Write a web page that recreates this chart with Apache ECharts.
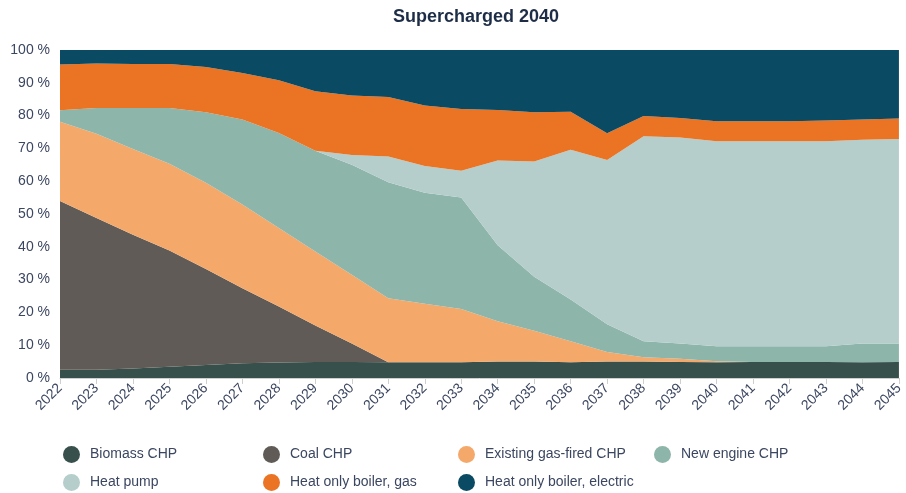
<!DOCTYPE html>
<html>
<head>
<meta charset="utf-8">
<script src="https://cdn.jsdelivr.net/npm/echarts@6/dist/echarts.min.js"></script>
<style>html,body{margin:0;padding:0;background:#fff}#c{width:906px;height:493px}</style>
</head>
<body>
<div id="c"></div>
<script>
var years = ['2022','2023','2024','2025','2026','2027','2028','2029','2030','2031','2032','2033','2034','2035','2036','2037','2038','2039','2040','2041','2042','2043','2044','2045'];
var biomassCHP = [2.5,2.5,2.9,3.4,4.0,4.5,4.7,4.9,4.9,4.8,4.8,4.8,5.0,5.0,4.8,5.0,5.0,4.9,4.8,4.9,4.9,4.9,4.8,4.9];
var coalCHP = [51.5,46.3,40.8,35.5,29.2,22.9,17.1,11.1,5.6,0,0,0,0,0,0,0,0,0,0,0,0,0,0,0];
var existingGasCHP = [24.1,25.7,26.1,26.4,26.3,25.5,23.9,22.6,21.0,19.5,17.8,16.2,12.3,9.4,6.4,2.9,1.3,1.0,0.3,0,0,0,0,0];
var newEngineCHP = [3.5,7.8,12.5,17.0,21.5,25.9,29.0,30.7,33.5,35.4,33.9,34.0,23.2,16.5,12.7,8.5,4.9,4.6,4.6,4.8,4.8,4.8,5.7,5.6];
var heatPump = [0,0,0,0,0,0,0,0,3.0,7.8,8.1,8.2,25.8,35.1,45.7,50.1,62.5,62.8,62.5,62.5,62.5,62.5,62.1,62.4];
var boilerGas = [14.0,13.6,13.4,13.4,13.8,14.2,16.1,18.1,18.1,18.2,18.5,18.8,15.4,15.0,11.6,8.1,6.2,6.0,6.1,6.1,6.1,6.3,6.2,6.2];
var boilerElectric = [4.4,4.1,4.3,4.3,5.2,7.0,9.2,12.6,13.9,14.3,16.9,18.0,18.3,19.0,18.8,25.4,20.1,20.7,21.7,21.7,21.7,21.5,21.2,20.9];
var yTicks = [0,10,20,30,40,50,60,70,80,90,100];

var names = ['Biomass CHP','Coal CHP','Existing gas-fired CHP','New engine CHP','Heat pump','Heat only boiler, gas','Heat only boiler, electric'];
var colors = ['#37504b','#605b56','#f4a96b','#8db5aa','#b5cecb','#ea7424','#0a4a63'];
var datas = [biomassCHP,coalCHP,existingGasCHP,newEngineCHP,heatPump,boilerGas,boilerElectric];

var textColor = '#3b4660';
var font = 'Liberation Sans, Arial, sans-serif';

var series = names.map(function(n,i){
  return {
    name: n, type: 'line', stack: 'total', data: datas[i],
    symbol: 'none', smooth: false,
    lineStyle: {width: 0, color: colors[i]},
    itemStyle: {color: colors[i]},
    areaStyle: {color: colors[i], opacity: 1},
    emphasis: {disabled: true}
  };
});

function legendCol(left, items){
  return {
    orient: 'vertical', left: left, top: 446, padding: 0, height: 47,
    data: items, icon: 'circle', itemWidth: 17, itemHeight: 17, itemGap: 11,
    textStyle: {color: textColor, fontSize: 14, fontFamily: font, padding: [0,0,0,5]},
    selectedMode: false
  };
}

var chart = echarts.init(document.getElementById('c'), null, {renderer: 'canvas'});
chart.setOption({
  animation: false,
  backgroundColor: '#fff',
  color: colors,
  title: {
    text: 'Supercharged 2040', left: 393, top: 8, padding: 0,
    textStyle: {color: '#1e2d47', fontSize: 18, fontWeight: 'bold', fontFamily: font}
  },
  legend: [
    legendCol(63, ['Biomass CHP','Heat pump']),
    legendCol(263, ['Coal CHP','Heat only boiler, gas']),
    legendCol(458, ['Existing gas-fired CHP','Heat only boiler, electric']),
    legendCol(654, ['New engine CHP'])
  ],
  grid: {left: 60, right: 4, top: 50, bottom: 115, containLabel: false},
  xAxis: {
    type: 'category', data: years, boundaryGap: false,
    axisLine: {show: true, lineStyle: {color: '#cfcfcf', width: 1}},
    axisTick: {show: true, alignWithLabel: true, length: 6, lineStyle: {color: '#cfcfcf'}},
    axisLabel: {rotate: 45, color: textColor, fontSize: 14, fontFamily: font, margin: 8, interval: 0},
    splitLine: {show: false}
  },
  yAxis: {
    type: 'value', min: 0, max: 100, interval: 10,
    axisLine: {show: false}, axisTick: {show: false},
    axisLabel: {color: textColor, fontSize: 14, fontFamily: font, margin: 10,
      formatter: function(v){ return yTicks.indexOf(v) >= 0 ? v + ' %' : ''; }},
    splitLine: {show: false}
  },
  series: series
});
</script>
</body>
</html>
